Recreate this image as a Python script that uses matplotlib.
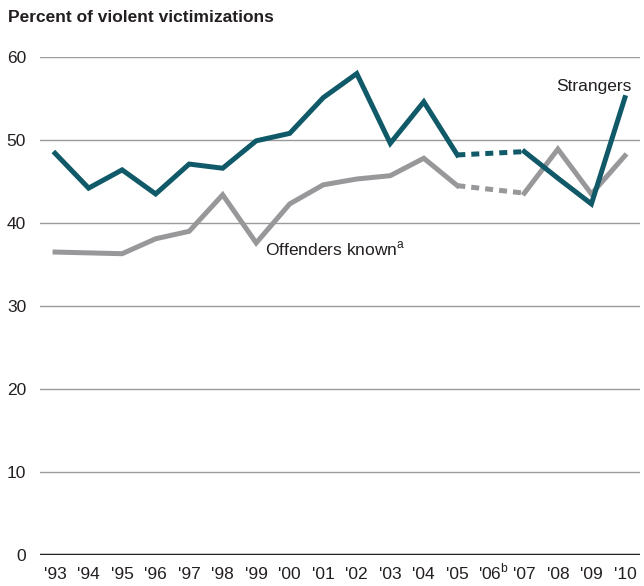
import matplotlib
matplotlib.use("Agg")
import matplotlib.pyplot as plt
import numpy as np
from matplotlib import font_manager

names = {f.name for f in font_manager.fontManager.ttflist}
fam = ['Liberation Sans Narrow', 'DejaVu Sans'] if 'Liberation Sans Narrow' in names else ['Liberation Sans', 'DejaVu Sans']
plt.rcParams['font.family'] = fam

years = [1993, 1994, 1995, 1996, 1997, 1998, 1999, 2000, 2001, 2002, 2003, 2004, 2005, 2007, 2008, 2009, 2010]
strangers = [48.4, 44.2, 46.4, 43.5, 47.1, 46.6, 49.9, 50.8, 55.1, 58.0, 49.6, 54.6, 48.2, 48.6, 45.4, 42.3, 55.1]
known = [36.5, 36.4, 36.3, 38.1, 39.0, 43.4, 37.6, 42.3, 44.6, 45.3, 45.7, 47.8, 44.5, 43.6, 48.9, 43.5, 48.1]
tick_years = list(range(1993, 2011))
tick_labels = ["'93", "'94", "'95", "'96", "'97", "'98", "'99", "'00", "'01", "'02", "'03", "'04", "'05", "'06$^{\\mathregular{b}}$", "'07", "'08", "'09", "'10"]
yticks = [0, 10, 20, 30, 40, 50, 60]

teal = '#0f5968'
grey = '#98989b'
txt = '#231f20'
fs = 12.5

fig = plt.figure(figsize=(6.44, 5.86), dpi=100)
ax = fig.add_axes([40/644, 1-555/586, 600/644, (555-57)/586])

for v in yticks[1:]:
    ax.axhline(v, color='#9a9a9a', lw=1.0, zorder=1)
ax.axhline(0, color=txt, lw=2.5, zorder=3)

i05 = years.index(2005)
i07 = years.index(2007)
lw = 3.6
for vals, c, z in [(known, grey, 4), (strangers, teal, 5)]:
    ax.plot(years[:i05+1], vals[:i05+1], color=c, lw=lw, solid_joinstyle='miter', zorder=z, clip_on=False)
    ax.plot(years[i07:], vals[i07:], color=c, lw=lw, solid_joinstyle='miter', zorder=z, clip_on=False)
    ax.plot([years[i05], years[i07]], [vals[i05], vals[i07]], color=c, lw=lw, linestyle=(0, (1.6, 1.2)), dash_capstyle='butt', zorder=z, clip_on=False)

ax.set_xlim(1992.55, 2010.45)
ax.set_ylim(0, 60)
for s in ax.spines.values():
    s.set_visible(False)
ax.set_xticks(tick_years)
ax.set_xticklabels([])
ax.set_yticks(yticks)
ax.set_yticklabels([str(v) for v in yticks], fontsize=fs, color=txt)
ax.tick_params(axis='both', length=0)
ax.tick_params(axis='y', pad=10)

xtrans = ax.get_xaxis_transform()
for yr, lab in zip(tick_years, tick_labels):
    ha = 'center'
    x = yr
    if '$' in lab:
        ha = 'left'
        x = yr - 0.38
    ax.text(x, -0.048, lab, transform=xtrans, fontsize=fs, color=txt, ha=ha, va='baseline')

ax.text(2010.2, 56.4, 'Strangers', fontsize=fs, ha='right', va='center', color=txt)
ax.text(1999.25, 36.9, 'Offenders known$^{\\mathregular{a}}$', fontsize=fs, ha='left', va='center', color=txt)

fig.text(8/644, 1-18/586, 'Percent of violent victimizations', fontsize=fs, fontweight='bold', ha='left', va='center', color=txt)

fig.savefig('out.png', dpi=100)
